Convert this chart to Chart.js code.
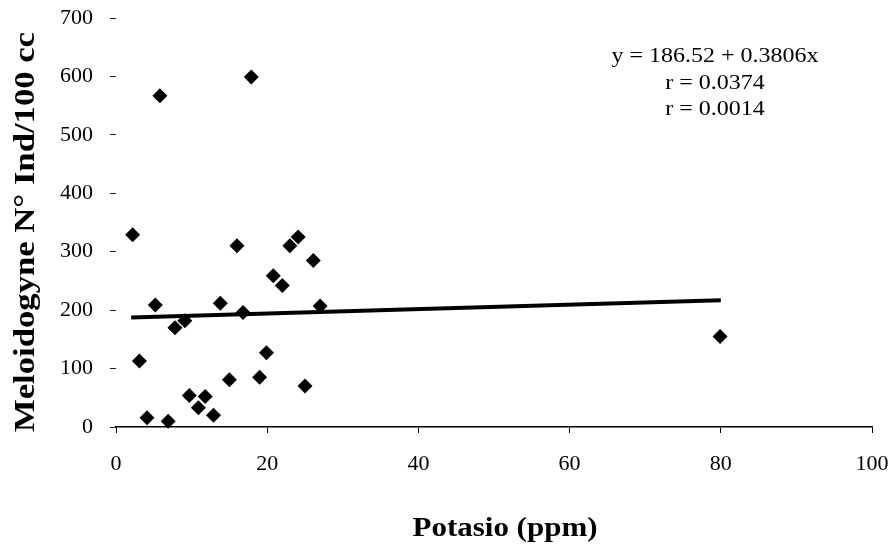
<!DOCTYPE html>
<html>
<head>
<meta charset="utf-8">
<script src="https://cdn.jsdelivr.net/npm/chart.js@4/dist/chart.umd.min.js"></script>
<style>
  html, body { margin: 0; padding: 0; background: #ffffff; }
  #wrap { width: 896px; height: 551px; position: relative; }
  .probe { font-family: "Liberation Serif"; position: absolute; left: -9999px; }
</style>
</head>
<body>
<div id="wrap"><canvas id="c" width="896" height="551"></canvas></div>
<span class="probe">0123 abc</span><span class="probe" style="font-weight:bold">Potasio</span>
<script>
// ---- data ----
const potasio = [17.9, 5.8, 2.2, 16.0, 23.0, 24.1, 26.1, 20.8, 22.0, 5.2, 13.8, 16.8, 27.0, 7.8, 9.1, 3.1, 19.9, 19.0, 15.0, 25.0, 9.7, 11.8, 10.9, 12.9, 4.1, 6.9, 79.9];
const meloidogyne = [599, 567, 329, 310, 310, 325, 285, 259, 242, 209, 212, 196, 207, 170, 182, 113, 127, 85, 81, 70, 54, 52, 33, 20, 16, 10, 155];
const intercept = 186.52;
const slope = 0.3806;
const trendX = [2, 80];
const xTicks = [0, 20, 40, 60, 80, 100];
const yTicks = [0, 100, 200, 300, 400, 500, 600, 700];
const annotationLines = ['y = 186.52 + 0.3806x', 'r = 0.0374', 'r = 0.0014'];
const xTitle = 'Potasio (ppm)';
const yTitle = 'Meloidogyne N\u00B0 Ind/100 cc';

const SERIF = '"Liberation Serif", "Times New Roman", serif';

const scatterPts = potasio.map((x, i) => ({ x: x, y: meloidogyne[i] }));
const trendPts = trendX.map(x => ({ x: x, y: intercept + slope * x }));

const textPlugin = {
  id: 'texts',
  afterDraw(chart) {
    const ctx = chart.ctx;
    ctx.save();
    ctx.fillStyle = '#000';
    ctx.textAlign = 'center';
    ctx.textBaseline = 'alphabetic';
    ctx.font = '20px ' + SERIF;
    annotationLines.forEach((t, i) => {
      ctx.save();
      ctx.translate(715, 62 + i * 26.5);
      ctx.scale(1.2, 1);
      ctx.fillText(t, 0, 0);
      ctx.restore();
    });
    ctx.save();
    ctx.font = 'bold 28px ' + SERIF;
    ctx.translate(505, 536);
    const wx = ctx.measureText(xTitle).width;
    ctx.scale(185 / wx, 1);
    ctx.fillText(xTitle, 0, 0);
    ctx.restore();
    ctx.save();
    ctx.font = 'bold 29px ' + SERIF;
    ctx.translate(34, 232);
    ctx.rotate(-Math.PI / 2);
    const wy = ctx.measureText(yTitle).width;
    ctx.scale(400 / wy, 1);
    ctx.fillText(yTitle, 0, 0);
    ctx.restore();
    ctx.restore();
  }
};

function build() {
  Chart.defaults.font.family = SERIF;
  new Chart(document.getElementById('c'), {
    type: 'scatter',
    data: {
      datasets: [
        {
          label: 'Meloidogyne',
          data: scatterPts,
          pointStyle: 'rectRot',
          pointRadius: 7.5,
          pointHoverRadius: 7.5,
          backgroundColor: '#000',
          borderColor: '#000',
          borderWidth: 0,
          clip: false,
          order: 2
        },
        {
          label: 'Lineal',
          type: 'line',
          data: trendPts,
          showLine: true,
          pointRadius: 0,
          borderColor: '#000',
          borderWidth: 4,
          fill: false,
          clip: false,
          order: 1
        }
      ]
    },
    options: {
      responsive: false,
      animation: false,
      events: [],
      layout: { padding: { top: 18, right: 24, left: 0, bottom: 0 } },
      plugins: {
        legend: { display: false },
        tooltip: { enabled: false },
        title: { display: false }
      },
      scales: {
        x: {
          type: 'linear',
          min: 0,
          max: 100,
          afterBuildTicks: (s) => { s.ticks = xTicks.map(v => ({ value: v })); },
          ticks: {
            color: '#000',
            font: { family: SERIF, size: 22 },
            padding: 18,
            maxRotation: 0
          },
          grid: {
            display: true,
            drawOnChartArea: false,
            drawTicks: true,
            tickLength: 6,
            color: '#000',
            lineWidth: 1
          },
          border: { display: true, color: '#000', width: 1.5 },
          afterFit: (s) => { s.height = 124; s.paddingLeft = 0; s.paddingRight = 0; }
        },
        y: {
          type: 'linear',
          min: 0,
          max: 700,
          afterBuildTicks: (s) => { s.ticks = yTicks.map(v => ({ value: v })); },
          ticks: {
            color: '#000',
            font: { family: SERIF, size: 22 },
            padding: 17
          },
          grid: {
            display: true,
            drawOnChartArea: false,
            drawTicks: true,
            tickLength: 6,
            color: '#222',
            lineWidth: 1
          },
          border: { display: false },
          afterFit: (s) => { s.width = 116; s.paddingTop = 0; s.paddingBottom = 0; }
        }
      }
    },
    plugins: [textPlugin]
  });
}

let built = false;
function go() { if (!built) { built = true; build(); } }
if (document.fonts && document.fonts.load) {
  Promise.all([
    document.fonts.load('20px "Liberation Serif"'),
    document.fonts.load('bold 28px "Liberation Serif"')
  ]).then(go, go);
  setTimeout(go, 1500);
} else {
  go();
}
</script>
</body>
</html>
